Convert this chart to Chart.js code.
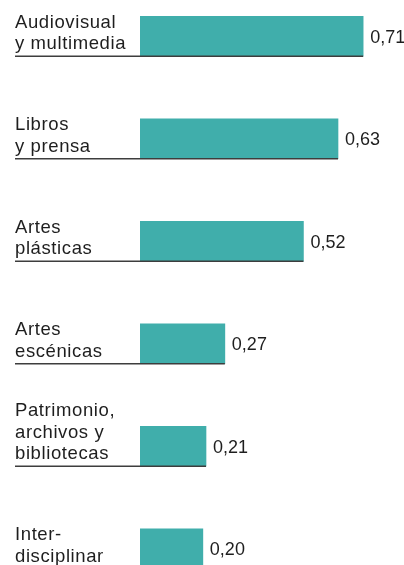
<!DOCTYPE html>
<html>
<head>
<meta charset="utf-8">
<script src="https://cdn.jsdelivr.net/npm/chart.js@4"></script>
<style>
  html, body { margin: 0; padding: 0; background: #fff; }
  #wrap { position: relative; width: 404px; height: 565px; overflow: hidden; }
  #c { position: absolute; left: 0; top: -15px; }
</style>
</head>
<body>
<div id="wrap"><canvas id="c" width="404" height="615"></canvas></div>
<script>
const categories = [
  ["Audiovisual", "y multimedia"],
  ["Libros", "y prensa"],
  ["Artes", "plásticas"],
  ["Artes", "escénicas"],
  ["Patrimonio,", "archivos y", "bibliotecas"],
  ["Inter-", "disciplinar"]
];
const values = [0.71, 0.63, 0.52, 0.27, 0.21, 0.20];
const valueLabels = ["0,71", "0,63", "0,52", "0,27", "0,21", "0,20"];

const FONT = '"Liberation Sans", Arial, Helvetica, sans-serif';

const decor = {
  id: 'decor',
  afterDatasetsDraw(chart) {
    const ctx = chart.ctx;
    const meta = chart.getDatasetMeta(0);
    ctx.save();
    meta.data.forEach((bar, i) => {
      const props = bar.getProps(['x', 'y', 'base', 'height'], true);
      const bottom = props.y + props.height / 2;
      ctx.strokeStyle = '#3d3d3d';
      ctx.lineWidth = 1.5;
      ctx.beginPath();
      ctx.moveTo(15, bottom);
      ctx.lineTo(props.x, bottom);
      ctx.stroke();
      ctx.fillStyle = '#1e1e1e';
      ctx.font = '18.5px ' + FONT;
      ctx.letterSpacing = '0.6px';
      ctx.textAlign = 'left';
      ctx.textBaseline = 'alphabetic';
      const lines = categories[i];
      const lh = 21.5;
      lines.forEach((ln, k) => {
        const yy = bottom - 7 - (lines.length - 1 - k) * lh;
        ctx.fillText(ln, 15, yy);
      });
      ctx.font = '18px ' + FONT;
      ctx.letterSpacing = '0px';
      ctx.fillText(valueLabels[i], props.x + 7, props.y + 6.5);
    });
    ctx.restore();
  }
};

new Chart(document.getElementById('c'), {
  type: 'bar',
  data: {
    labels: categories.map(l => l.join(' ')),
    datasets: [{
      data: values,
      backgroundColor: '#40aeab',
      borderWidth: 0,
      barThickness: 40
    }]
  },
  options: {
    indexAxis: 'y',
    responsive: false,
    animation: false,
    events: [],
    layout: { padding: { left: 140, right: 0, top: 0, bottom: 0 } },
    plugins: { legend: { display: false }, tooltip: { enabled: false } },
    scales: {
      x: { display: false, min: 0, max: 0.84 },
      y: { display: false }
    }
  },
  plugins: [decor]
});
</script>
</body>
</html>
